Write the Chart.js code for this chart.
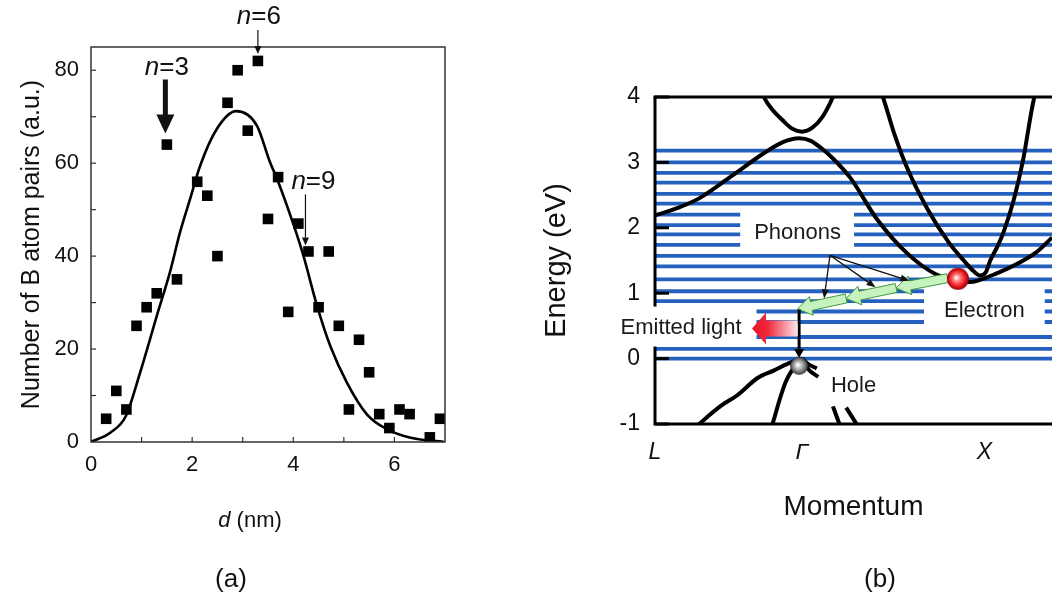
<!DOCTYPE html>
<html><head><meta charset="utf-8">
<script src="https://cdn.jsdelivr.net/npm/chart.js@4.4.1/dist/chart.umd.min.js"></script>
<style>
html,body{margin:0;padding:0;background:#fff;width:1063px;height:614px;overflow:hidden}
#a{position:absolute;left:0;top:0}
#b{position:absolute;left:520px;top:0}
</style></head><body>
<canvas id="a" width="520" height="614"></canvas>
<canvas id="b" width="543" height="614"></canvas>
<script>
const FONT = '"Liberation Sans", Arial, Helvetica, sans-serif';

// ---------- Panel (a) data ----------
const pairDistance = [0.3,0.5,0.7,0.9,1.1,1.3,1.5,1.7,2.1,2.3,2.5,2.7,2.9,3.1,3.3,3.5,3.7,3.9,4.1,4.3,4.5,4.7,4.9,5.1,5.3,5.5,5.7,5.9,6.1,6.3,6.7,6.9];
const pairCounts   = [5,11,7,25,29,32,64,35,56,53,40,73,80,67,82,48,57,28,47,41,29,41,25,7,22,15,6,3,7,6,1,5];
const fitDistance  = [0,0.38,0.69,0.97,1.30,1.56,1.76,1.96,2.16,2.49,2.87,3.28,3.54,3.68,4.01,4.20,4.47,4.73,5.06,5.46,5.86,6.32,6.98];
const fitCounts    = [0,2.0,5.6,14.9,27.1,36.5,45.1,52.3,59.5,67.4,71.2,68.1,60.2,56.6,46.6,40.1,29.3,20.7,12.8,5.9,2.7,0.9,0];
const dTicks = [0,2,4,6];
const dMinorTicks = [1,2,3,4,5,6];
const countTicks = [0,20,40,60,80];
const countMinorTicks = [10,20,30,40,50,60,70,80];
const nMarkLabels = ['3','6','9'];
const nMarkDistance = [1.5,3.3,4.3];
const nMarkCount = [64,82,41];

// ---------- Panel (b) data ----------
const kPoints = [0, 1, 2.24];
const kLabels = ['L', 'Γ', 'X'];
const energyTicks = [-1,0,1,2,3,4];
const levelEnergies = [0,0.15,0.33,0.56,0.72,0.88,1.03,1.21,1.41,1.57,1.74,1.90,2.04,2.20,2.37,2.52,2.69,2.84,3.00,3.18];
const upperGammaK = [0.72,0.74,0.80,0.87,0.93,1.00,1.07,1.14,1.21,1.23];
const upperGammaE = [4.12,4.0,3.80,3.64,3.52,3.47,3.53,3.70,4.0,4.12];
const lowerCBK = [0,0.15,0.30,0.52,0.74,0.87,0.98,1.06,1.13,1.21,1.33,1.51,1.71,1.91,2.06,2.15,2.22,2.32,2.42,2.59,2.70];
const lowerCBE = [2.19,2.30,2.45,2.79,3.14,3.31,3.37,3.33,3.22,3.06,2.76,2.13,1.62,1.29,1.20,1.17,1.21,1.30,1.40,1.62,1.85];
const xValleyK = [1.53,1.55,1.63,1.71,1.85,2.00,2.10,2.17,2.21,2.25,2.28,2.33,2.37,2.44,2.50,2.58,2.60];
const xValleyE = [4.12,4.0,3.42,2.94,2.30,1.77,1.50,1.33,1.27,1.32,1.50,1.72,1.93,2.43,3.0,4.0,4.12];
const heavyHoleK = [0.27,0.30,0.45,0.56,0.695,0.81,0.90,0.96,1.0];
const heavyHoleE = [-1.06,-1.0,-0.72,-0.56,-0.30,-0.18,-0.08,-0.03,0];
const lightHoleK = [0.79,0.806,0.85,0.89,0.94,0.97,1.0];
const lightHoleE = [-1.06,-0.95,-0.61,-0.35,-0.15,-0.06,0];
const arc1K = [1.0,1.04,1.10], arc1E = [0,-0.08,-0.15];
const arc2K = [1.0,1.05,1.11], arc2E = [-0.03,-0.18,-0.28];
const slash1K = [1.21,1.262], slash1E = [-0.73,-1.05];
const slash2K = [1.30,1.385], slash2E = [-0.75,-1.05];
const electronK = [2.06], electronE = [1.22];
const holeK = [0.98], holeE = [-0.11];
const phononPathK = [1.99,1.64,1.30,0.97];
const phononPathE = [1.23,1.08,0.92,0.76];
const phononFromK = 1.19, phononFromE = 1.58;
const phononToK = [1.15,1.50,1.73];
const phononToE = [0.92,1.09,1.19];
const recombK = 0.98, recombTopE = 0.75, recombBottomE = 0.01;
const lightTailK = 0.97, lightTipK = 0.66, lightE = 0.46;

const pts = (xs, ys) => xs.map((v, i) => ({x: v, y: ys[i]}));

// ---------- helpers ----------
function thinArrow(ctx, x1, y1, x2, y2, lw, hw, hl) {
  const ang = Math.atan2(y2 - y1, x2 - x1);
  const bx = x2 - Math.cos(ang) * hl, by = y2 - Math.sin(ang) * hl;
  ctx.lineWidth = lw;
  ctx.beginPath(); ctx.moveTo(x1, y1); ctx.lineTo(bx, by); ctx.stroke();
  ctx.beginPath();
  ctx.moveTo(x2, y2);
  ctx.lineTo(bx + Math.sin(ang) * hw / 2, by - Math.cos(ang) * hw / 2);
  ctx.lineTo(bx - Math.sin(ang) * hw / 2, by + Math.cos(ang) * hw / 2);
  ctx.closePath(); ctx.fill();
}
function fatArrowPath(ctx, x1, y1, x2, y2, bw, hw, hl) {
  const ang = Math.atan2(y2 - y1, x2 - x1), len = Math.hypot(x2 - x1, y2 - y1);
  const c = Math.cos(ang), s = Math.sin(ang);
  const P = (u, v) => [x1 + u * c - v * s, y1 + u * s + v * c];
  const poly = [P(0, -bw/2), P(len - hl, -bw/2), P(len - hl, -hw/2), P(len, 0), P(len - hl, hw/2), P(len - hl, bw/2), P(0, bw/2)];
  ctx.beginPath();
  poly.forEach((p, i) => i ? ctx.lineTo(p[0], p[1]) : ctx.moveTo(p[0], p[1]));
  ctx.closePath();
}
function mixedText(ctx, parts, cx, cy) {
  let total = 0;
  parts.forEach(p => { ctx.font = p.font; p.w = ctx.measureText(p.t).width; total += p.w; });
  let x = cx - total / 2;
  ctx.textAlign = 'left'; ctx.textBaseline = 'middle';
  parts.forEach(p => { ctx.font = p.font; ctx.fillText(p.t, x, cy); x += p.w; });
}
function sphere(r, c0, c1, c2, c3) {
  const cv = document.createElement('canvas');
  cv.width = cv.height = 2 * r + 2;
  const g = cv.getContext('2d');
  const cx = r + 1, cy = r + 1;
  const grad = g.createRadialGradient(cx - r * 0.15, cy - r * 0.1, r * 0.05, cx, cy, r);
  grad.addColorStop(0, c0); grad.addColorStop(0.3, c1); grad.addColorStop(0.75, c2); grad.addColorStop(1, c3);
  g.fillStyle = grad; g.beginPath(); g.arc(cx, cy, r, 0, Math.PI * 2); g.fill();
  return cv;
}

// ---------- Panel (a) ----------
const annotA = {
  id: 'annotA',
  afterDatasetsDraw(chart) {
    const {ctx, chartArea: a, scales: {x, y}} = chart;
    ctx.save();
    ctx.strokeStyle = '#333'; ctx.lineWidth = 1.5;
    ctx.strokeRect(a.left, a.top, a.right - a.left, a.bottom - a.top);
    ctx.lineWidth = 1.2;
    dMinorTicks.forEach(v => { const px = x.getPixelForValue(v); ctx.beginPath(); ctx.moveTo(px, a.bottom); ctx.lineTo(px, a.bottom - 5); ctx.stroke(); });
    countMinorTicks.forEach(v => { const py = y.getPixelForValue(v); ctx.beginPath(); ctx.moveTo(a.left, py); ctx.lineTo(a.left + 5, py); ctx.stroke(); });

    ctx.fillStyle = '#111'; ctx.strokeStyle = '#111';
    const it = 'italic 26px ' + FONT, rg = '26px ' + FONT;
    // n = 3 (bold arrow)
    let px = x.getPixelForValue(nMarkDistance[0]), py = y.getPixelForValue(nMarkCount[0]);
    mixedText(ctx, [{t: 'n', font: it}, {t: '=' + nMarkLabels[0], font: rg}], px, py - 77);
    fatArrowPath(ctx, px - 1.5, py - 65, px - 1.5, py - 11, 5, 18, 19); ctx.fill();
    // n = 6
    px = x.getPixelForValue(nMarkDistance[1]); py = y.getPixelForValue(nMarkCount[1]);
    mixedText(ctx, [{t: 'n', font: it}, {t: '=' + nMarkLabels[1], font: rg}], px + 1, py - 44);
    thinArrow(ctx, px, py - 31, px, py - 7, 1.2, 7, 8);
    // n = 9
    px = x.getPixelForValue(nMarkDistance[2]); py = y.getPixelForValue(nMarkCount[2]);
    mixedText(ctx, [{t: 'n', font: it}, {t: '=' + nMarkLabels[2], font: rg}], px + 5, py - 70);
    thinArrow(ctx, px - 3, py - 57, px - 3, py - 6, 1.2, 7, 8);

    // x title with italic d
    mixedText(ctx, [{t: 'd', font: 'italic 22px ' + FONT}, {t: ' (nm)', font: '22px ' + FONT}], (a.left + a.right) / 2 - 18, 521);
    // panel label
    ctx.font = '26px ' + FONT; ctx.textAlign = 'center'; ctx.textBaseline = 'middle';
    ctx.fillText('(a)', 231, 580);
    ctx.restore();
  }
};

new Chart(document.getElementById('a'), {
  type: 'scatter',
  data: {
    datasets: [
      { label: 'fit', type: 'line', data: pts(fitDistance, fitCounts), borderColor: '#000', borderWidth: 2.6,
        pointRadius: 0, cubicInterpolationMode: 'monotone', fill: false, order: 2 },
      { label: 'pairs', data: pts(pairDistance, pairCounts), pointStyle: 'rect', pointRadius: 7.5,
        backgroundColor: '#000', borderColor: '#000', borderWidth: 0, order: 1 }
    ]
  },
  options: {
    responsive: false, animation: false, devicePixelRatio: 1,
    layout: {padding: {top: 47, right: 75, left: 0, bottom: 0}},
    plugins: {legend: {display: false}, tooltip: {enabled: false}},
    scales: {
      x: { type: 'linear', min: 0, max: 7,
        afterBuildTicks(s) { s.ticks = dTicks.map(v => ({value: v})); },
        ticks: {font: {family: FONT, size: 22}, color: '#111', padding: 10, maxRotation: 0, autoSkip: false},
        grid: {display: false, drawTicks: false}, border: {display: false},
        afterFit(s) { s.height = 172; } },
      y: { type: 'linear', min: 0, max: 85,
        afterBuildTicks(s) { s.ticks = countTicks.map(v => ({value: v})); },
        ticks: {font: {family: FONT, size: 22}, color: '#111', padding: 12},
        grid: {display: false, drawTicks: false}, border: {display: false},
        title: {display: true, text: 'Number of B atom pairs (a.u.)', color: '#111',
          font: {family: FONT, size: 25}, padding: {top: 17, bottom: 0}},
        afterFit(s) { s.width = 91; } }
    }
  },
  plugins: [annotA]
});

// ---------- Panel (b) ----------
const electronImg = sphere(11, '#ffffff', '#ff7a7a', '#e4141c', '#8c0008');
const holeImg = sphere(9, '#ffffff', '#c9c9c9', '#6e6e6e', '#2a2a2a');

const datasetsB = [];
levelEnergies.forEach(E => datasetsB.push({
  label: 'level', data: [{x: 0, y: E}, {x: 2.70, y: E}], borderColor: '#2461bf', borderWidth: 3.8,
  pointRadius: 0, order: 3 }));
[[upperGammaK, upperGammaE], [lowerCBK, lowerCBE], [xValleyK, xValleyE], [heavyHoleK, heavyHoleE],
 [lightHoleK, lightHoleE], [arc1K, arc1E], [arc2K, arc2E], [slash1K, slash1E], [slash2K, slash2E]]
  .forEach(([k, e]) => datasetsB.push({
    label: 'band', data: pts(k, e), borderColor: '#000', borderWidth: 4, pointRadius: 0,
    cubicInterpolationMode: 'monotone', order: 2 }));
datasetsB.push({ label: 'carriers', data: pts(electronK.concat(holeK), electronE.concat(holeE)),
  showLine: false, pointStyle: [electronImg, holeImg], pointRadius: 10, order: 0, clip: false });

const labelBoxes = [
  {t: 'Phonons', k: 0.97, e: 1.93, pad: [14, 13, 21, 21]},
  {t: 'Electron', k: 2.24, e: 0.745, pad: [20, 20, 23, 23]},
  {t: 'Emitted light', k: 0.177, e: 0.49, pad: [9, 15, 20, 20]},
  {t: 'Hole', k: 1.35, e: -0.41, pad: [8, 13, 14, 14]}
];

const overlayB = {
  id: 'overlayB',
  beforeDatasetDraw(chart, args) {
    if (chart.data.datasets[args.index].label !== 'carriers') return;
    const {ctx, chartArea: a, scales: {x, y}} = chart;
    const X = v => x.getPixelForValue(v), Y = v => y.getPixelForValue(v);
    ctx.save();
    // frame
    ctx.strokeStyle = '#000'; ctx.lineWidth = 3;
    ctx.beginPath(); ctx.moveTo(a.left - 1.5, a.top); ctx.lineTo(a.right, a.top); ctx.stroke();
    ctx.beginPath(); ctx.moveTo(a.left, a.top); ctx.lineTo(a.left, a.bottom); ctx.lineTo(a.right, a.bottom); ctx.stroke();
    energyTicks.forEach(v => { const py = Y(v); ctx.beginPath(); ctx.moveTo(a.left, py); ctx.lineTo(a.left + 14, py); ctx.stroke(); });

    // label boxes
    ctx.font = '22px ' + FONT; ctx.textBaseline = 'middle'; ctx.textAlign = 'center';
    labelBoxes.forEach(b => {
      const cx = X(b.k), cy = Y(b.e), w = ctx.measureText(b.t).width;
      ctx.fillStyle = '#fff';
      ctx.fillRect(cx - w / 2 - b.pad[0], cy - b.pad[2], w + b.pad[0] + b.pad[1], b.pad[2] + b.pad[3]);
      ctx.fillStyle = '#1a1a1a';
      ctx.fillText(b.t, cx, cy + 1);
    });

    // green phonon-emission path
    ctx.fillStyle = '#c6f2bd'; ctx.strokeStyle = '#3f9a3f'; ctx.lineWidth = 1;
    for (let i = 0; i < phononPathK.length - 1; i++) {
      fatArrowPath(ctx, X(phononPathK[i]), Y(phononPathE[i]), X(phononPathK[i + 1]), Y(phononPathE[i + 1]), 9, 19, 14);
      ctx.fill(); ctx.stroke();
    }
    // phonon pointers
    ctx.strokeStyle = '#111'; ctx.fillStyle = '#111';
    phononToK.forEach((k, i) => thinArrow(ctx, X(phononFromK), Y(phononFromE), X(k), Y(phononToE[i]), 1.3, 7, 9));

    // recombination line
    ctx.strokeStyle = '#000'; ctx.fillStyle = '#000';
    thinArrow(ctx, X(recombK), Y(recombTopE), X(recombK), Y(recombBottomE), 3, 10, 9);

    // emitted light arrow
    const tx = X(lightTailK), hx = X(lightTipK), ly = Y(lightE);
    const grad = ctx.createLinearGradient(hx, 0, tx, 0);
    grad.addColorStop(0, '#ec1424'); grad.addColorStop(0.35, '#f02a3c'); grad.addColorStop(1, '#fde4ea');
    ctx.fillStyle = grad;
    fatArrowPath(ctx, tx, ly, hx, ly, 16, 32, 14); ctx.fill();

    // panel label
    ctx.fillStyle = '#111'; ctx.font = '26px ' + FONT; ctx.textAlign = 'center';
    ctx.fillText('(b)', 360, 580);
    ctx.restore();
  }
};

new Chart(document.getElementById('b'), {
  type: 'line',
  data: {datasets: datasetsB},
  options: {
    responsive: false, animation: false, devicePixelRatio: 1,
    layout: {padding: {top: 97, right: 0, bottom: 0, left: 0}},
    plugins: {legend: {display: false}, tooltip: {enabled: false}},
    scales: {
      x: { type: 'linear', min: 0, max: 2.70,
        afterBuildTicks(s) { s.ticks = kPoints.map(v => ({value: v})); },
        ticks: {callback: (v, i) => kLabels[i], autoSkip: false, maxRotation: 0,
          font: {family: FONT, size: 23, style: 'italic'}, color: '#111', padding: 15},
        grid: {display: false, drawTicks: false}, border: {display: false},
        title: {display: true, text: 'Momentum', color: '#111', font: {family: FONT, size: 28},
          padding: {top: 0, bottom: 90}},
        afterFit(s) { s.height = 190; } },
      y: { type: 'linear', min: -1, max: 4,
        afterBuildTicks(s) { s.ticks = energyTicks.map(v => ({value: v})); },
        ticks: {callback: v => String(v), font: {family: FONT, size: 23}, color: '#111', padding: 15},
        grid: {display: false, drawTicks: false}, border: {display: false},
        title: {display: true, text: 'Energy (eV)', color: '#111', font: {family: FONT, size: 29},
          padding: {top: 20, bottom: 0}},
        afterFit(s) { s.width = 135; } }
    }
  },
  plugins: [overlayB]
});
</script>
</body></html>
